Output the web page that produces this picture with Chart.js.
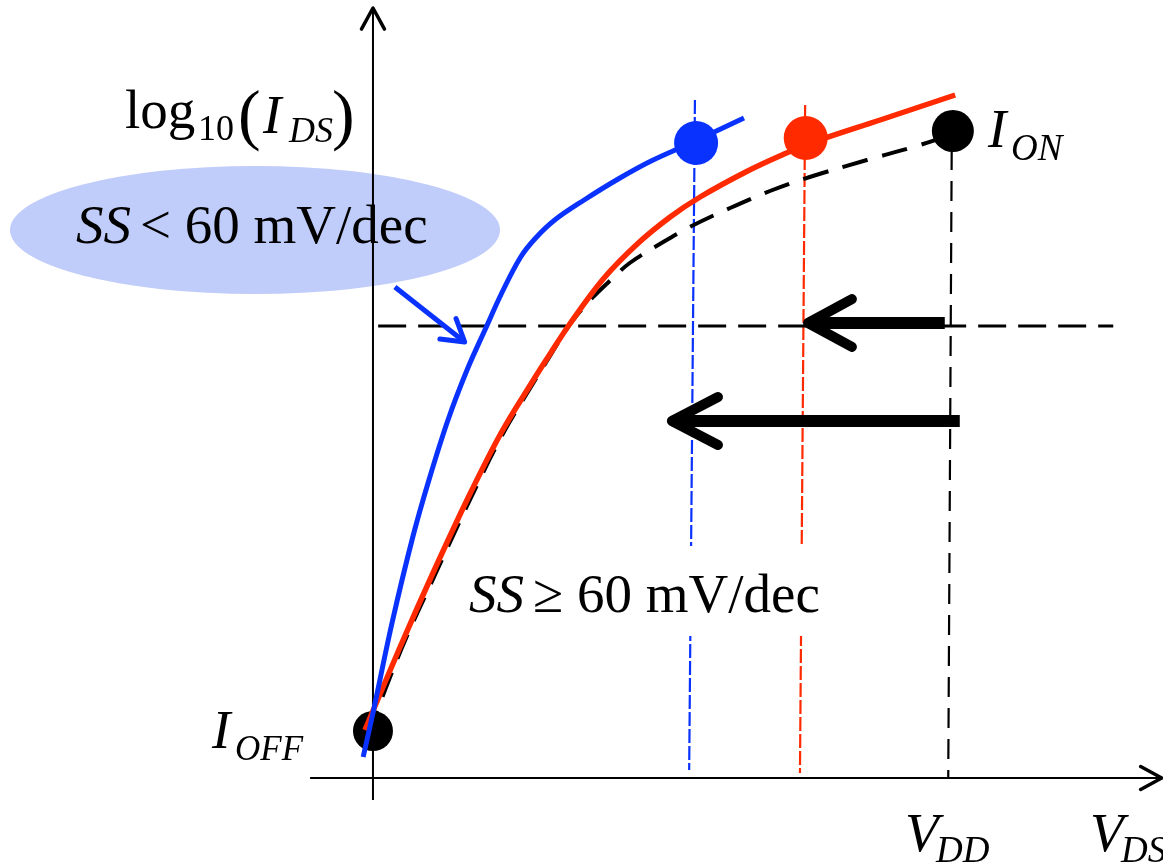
<!DOCTYPE html>
<html>
<head>
<meta charset="utf-8">
<script src="https://cdn.jsdelivr.net/npm/chart.js@4"></script>
<style>
  html, body { margin: 0; padding: 0; background: #fff; }
  canvas { display: block; }
</style>
</head>
<body>
<canvas id="c" width="1163" height="865"></canvas>
<script>
// x: V_DS in units of V_DD, y: log10(I_DS) in decades above I_OFF
const xMin = -0.6464, xMax = 1.3692;
const yMin = -1.34, yMax = 7.31;

const steepCurve = [[-0.017,-0.26],[0,0.18],[0.033,1.08],[0.069,1.94],[0.097,2.51],[0.130,3.11],
  [0.163,3.61],[0.194,4.01],[0.224,4.39],[0.256,4.74],[0.282,4.93],[0.315,5.11],[0.366,5.31],
  [0.425,5.52],[0.482,5.70],[0.551,5.88],[0.643,6.13]];
const scaledCurve = [[-0.014,0.01],[0.047,0.84],[0.104,1.58],[0.163,2.31],[0.222,2.98],[0.277,3.50],
  [0.308,3.78],[0.341,4.07],[0.399,4.52],[0.458,4.87],[0.515,5.14],[0.567,5.34],[0.646,5.59],
  [0.709,5.76],[0.759,5.88],[0.879,6.11],[1.009,6.36]];
const baseCurve = [[-0.009,-0.04],[0.050,0.83],[0.109,1.58],[0.168,2.31],[0.225,2.97],[0.279,3.49],
  [0.310,3.78],[0.343,4.08],[0.380,4.33],[0.414,4.52],[0.445,4.68],[0.503,4.89],[0.549,5.04],
  [0.619,5.23],[0.688,5.40],[0.757,5.54],[0.856,5.71],[0.931,5.83],[0.991,5.94]];

const ionBlue = [[0.560,5.88]];
const ionRed = [[0.750,5.93]];
const ionBase = [[1.005,6.00]];
const ioff = [[0,0]];

const vddBlue = [[0.558,6.31],[0.548,-0.39]];
const vddRed = [[0.749,6.26],[0.740,-0.42]];
const vddBase = [[1.003,5.81],[0.997,-0.47]];
const currentLevel = [[0.009,4.05],[1.283,4.05]];
const shiftRed = [[0.991,4.08],[0.754,4.08]];
const shiftBlue = [[1.017,3.10],[0.518,3.10]];
const pointer = [[0.038,4.44],[0.159,3.89]];
const axisY = [[0,-0.69],[0,7.23]];
const axisX = [[-0.109,-0.47],[1.367,-0.47]];

const BLUE = '#0a32ff', RED = '#ff2a00', BLACK = '#000';
const serif = (size, italic) => (italic ? 'italic ' : '') + size + 'px "Liberation Serif", "Times New Roman", serif';

function line(data, color, width, dash, extra) {
  return Object.assign({
    data: data, showLine: true, borderColor: color, borderWidth: width,
    borderDash: dash || [], pointRadius: 0, borderCapStyle: 'butt', fill: false
  }, extra || {});
}
function dot(data, color, r) {
  return { data: data, showLine: false, pointRadius: r, pointHoverRadius: r,
    backgroundColor: color, borderColor: color, borderWidth: 0 };
}

const arrowHeads = {
  id: 'arrowHeads',
  afterDatasetDraw(chart, args) {
    const ds = chart.data.datasets[args.index];
    if (!ds.head) return;
    const pts = args.meta.data;
    const a = pts[pts.length - 2], b = pts[pts.length - 1];
    const dir = Math.atan2(b.y - a.y, b.x - a.x);
    const h = ds.head, ctx = chart.ctx;
    ctx.save();
    ctx.strokeStyle = ds.borderColor;
    ctx.lineWidth = h.width;
    ctx.lineCap = 'round';
    ctx.lineJoin = 'round';
    ctx.setLineDash([]);
    ctx.beginPath();
    ctx.moveTo(b.x - h.len * Math.cos(dir - h.ang), b.y - h.len * Math.sin(dir - h.ang));
    ctx.lineTo(b.x, b.y);
    ctx.lineTo(b.x - h.len * Math.cos(dir + h.ang), b.y - h.len * Math.sin(dir + h.ang));
    ctx.stroke();
    ctx.restore();
  }
};

function put(ctx, t, x, y, size, italic) {
  ctx.font = serif(size, italic);
  ctx.fillText(t, x, y);
}

const labels = {
  id: 'labels',
  beforeDatasetsDraw(chart) {
    const ctx = chart.ctx;
    ctx.save();
    // highlight bubble
    ctx.fillStyle = '#c0ccf9';
    ctx.beginPath();
    ctx.ellipse(255, 230, 245, 64, 0, 0, Math.PI * 2);
    ctx.fill();
    ctx.fillStyle = '#000';
    ctx.textBaseline = 'alphabetic';
    put(ctx, 'SS', 76, 243, 55, true);
    put(ctx, '< 60 mV/dec', 140, 243, 55, false);
    ctx.restore();
  },
  afterDatasetsDraw(chart) {
    const ctx = chart.ctx;
    ctx.save();
    ctx.fillStyle = '#fff';
    ctx.fillRect(462, 546, 372, 90);
    ctx.fillStyle = '#000';
    ctx.textBaseline = 'alphabetic';
    put(ctx, 'SS', 469, 612, 55, true);
    put(ctx, '\u2265 60 mV/dec', 533, 612, 55, false);

    put(ctx, 'log', 125, 128, 55, false);
    put(ctx, '10', 198, 140, 36, false);
    put(ctx, '(', 238, 137, 68, false);
    put(ctx, 'I', 263, 133, 55, true);
    put(ctx, 'DS', 289, 142, 36, true);
    put(ctx, ')', 332, 137, 68, false);

    put(ctx, 'I', 988, 147, 55, true);
    put(ctx, 'ON', 1011, 160, 37, true);
    put(ctx, 'I', 212, 748, 55, true);
    put(ctx, 'OFF', 235, 760, 35, true);
    put(ctx, 'V', 905, 851, 55, true);
    put(ctx, 'DD', 936, 862, 37, true);
    put(ctx, 'V', 1090, 851, 55, true);
    put(ctx, 'DS', 1121, 862, 37, true);
    ctx.restore();
  }
};

// first dataset is drawn on top
const datasets = [
  dot(ionBlue, BLUE, 22),
  dot(ionRed, RED, 22),
  dot(ionBase, BLACK, 21),
  line(steepCurve, BLUE, 5, [], { tension: 0.35 }),
  line(scaledCurve, RED, 5.5, [], { tension: 0.35 }),
  line(baseCurve, BLACK, 4, [26, 15], { tension: 0.35 }),
  dot(ioff, BLACK, 20),
  line(pointer, BLUE, 5, [], { head: { len: 25, ang: 0.55, width: 5 } }),
  line(shiftRed, BLACK, 12, [], { head: { len: 50, ang: 0.5, width: 10 } }),
  line(shiftBlue, BLACK, 12, [], { head: { len: 52, ang: 0.48, width: 10 } }),
  line(currentLevel, BLACK, 3, [28, 12]),
  line(vddBlue, BLUE, 2.2, [14, 3]),
  line(vddRed, RED, 2.2, [14, 3]),
  line(vddBase, BLACK, 2.2, [20, 11]),
  line(axisY, BLACK, 2, [], { head: { len: 24, ang: 0.5, width: 3.5 } }),
  line(axisX, BLACK, 2, [], { head: { len: 24, ang: 0.5, width: 3.5 } })
];

new Chart(document.getElementById('c'), {
  type: 'scatter',
  data: { datasets: datasets },
  options: {
    responsive: false,
    devicePixelRatio: 1,
    animation: false,
    layout: { padding: 0, autoPadding: false },
    plugins: { legend: { display: false }, tooltip: { enabled: false } },
    scales: {
      x: { type: 'linear', display: false, min: xMin, max: xMax },
      y: { type: 'linear', display: false, min: yMin, max: yMax }
    }
  },
  plugins: [labels, arrowHeads]
});
</script>
</body>
</html>
